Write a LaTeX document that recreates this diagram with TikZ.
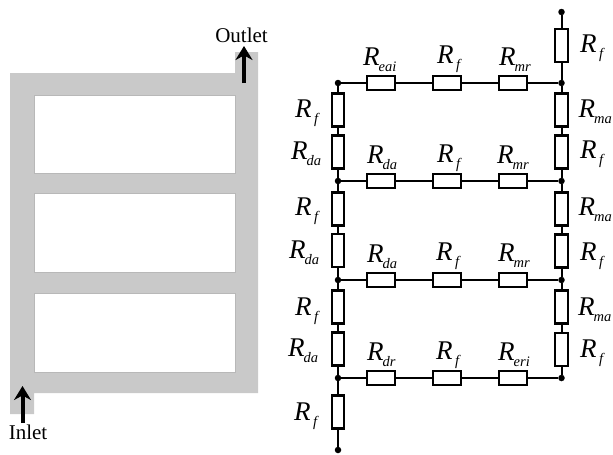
\documentclass[tikz,border=0pt]{standalone}
\usepackage{fontspec}
\setmainfont{Liberation Serif}
\usetikzlibrary{arrows.meta}
\newcommand{\rname}[1]{\fontsize{27}{27}\selectfont\textit{R}\kern-1pt\raisebox{-6pt}{\fontsize{14.5}{14.5}\selectfont\textit{#1}}}
\newcommand{\rfilm}{\rname{\kern3.5pt f}}
\tikzset{
	rvert/.style={draw,line width=2.2pt,fill=white,minimum width=12.5pt,minimum height=33pt,inner sep=0pt},
	rhorz/.style={draw,line width=2.2pt,fill=white,minimum width=28.5pt,minimum height=14pt,inner sep=0pt},
	junction/.style={circle,fill=black,inner sep=0pt,minimum size=6.5pt},
	wire/.style={line width=2pt},
	rlabel/.style={anchor=base west,inner sep=0pt},
	flowarrow/.style={line width=4pt,-{Stealth[length=14pt,width=17pt]}},
	tag/.style={font=\fontsize{21}{21}\selectfont,inner sep=0pt}
}
\begin{document}
\begin{tikzpicture}[x=1pt,y=-1pt]
	\useasboundingbox (0,0) rectangle (613,455);
	% channel plate
	\fill[fill=black!21] (10,73) -- (235,73) -- (235,52) -- (258,52) -- (258,393) -- (34,393) -- (34,414) -- (10,414) -- cycle;
	\draw[fill=white,draw=black!28,line width=0.7pt] (34,95) rectangle (235,173);
	\draw[fill=white,draw=black!28,line width=0.7pt] (34,193.5) rectangle (235,272);
	\draw[fill=white,draw=black!28,line width=0.7pt] (34,293.5) rectangle (235,372);
	% inlet and outlet
	\node[tag] (outlet) at (241.5,35) {Outlet};
	\node[tag] (inlet) at (28,432) {Inlet};
	\coordinate (outletstart) at (244,83);
	\coordinate (outletend) at (244,46);
	\coordinate (inletstart) at (22.5,423);
	\coordinate (inletend) at (22.5,386);
	\draw[flowarrow] (outletstart) -- (outletend);
	\draw[flowarrow] (inletstart) -- (inletend);
	% junctions
	\node[junction] (top) at (561.5,12) {};
	\node[junction] (bottom) at (338,450) {};
	\node[junction] (la) at (338,83) {};
	\node[junction] (lb) at (338,181) {};
	\node[junction] (lc) at (338,280) {};
	\node[junction] (ld) at (338,378) {};
	\node[junction] (ra) at (561.5,83) {};
	\node[junction] (rb) at (561.5,181) {};
	\node[junction] (rc) at (561.5,280) {};
	\node[junction] (rd) at (561.5,378) {};
	% left column
	\node[rvert] (l1) at (338,110) {};
	\node[rvert] (l2) at (338,152) {};
	\node[rvert] (l3) at (338,209) {};
	\node[rvert] (l4) at (338,250.5) {};
	\node[rvert] (l5) at (338,307) {};
	\node[rvert] (l6) at (338,349) {};
	\node[rvert] (l7) at (338,412) {};
	% right column
	\node[rvert] (r0) at (561.5,45.5) {};
	\node[rvert] (r1) at (561.5,110) {};
	\node[rvert] (r2) at (561.5,152) {};
	\node[rvert] (r3) at (561.5,209) {};
	\node[rvert] (r4) at (561.5,251) {};
	\node[rvert] (r5) at (561.5,307) {};
	\node[rvert] (r6) at (561.5,349.5) {};
	% rows
	\node[rhorz] (a1) at (381,83) {};
	\node[rhorz] (a2) at (447,83) {};
	\node[rhorz] (a3) at (513,83) {};
	\node[rhorz] (b1) at (381,181) {};
	\node[rhorz] (b2) at (447,181) {};
	\node[rhorz] (b3) at (513,181) {};
	\node[rhorz] (c1) at (381,280) {};
	\node[rhorz] (c2) at (447,280) {};
	\node[rhorz] (c3) at (513,280) {};
	\node[rhorz] (d1) at (381,378) {};
	\node[rhorz] (d2) at (447,378) {};
	\node[rhorz] (d3) at (513,378) {};
	% wires
	\draw[wire] (la) -- (l1) -- (l2) -- (lb) -- (l3) -- (l4) -- (lc) -- (l5) -- (l6) -- (ld) -- (l7) -- (bottom);
	\draw[wire] (top) -- (r0) -- (ra) -- (r1) -- (r2) -- (rb) -- (r3) -- (r4) -- (rc) -- (r5) -- (r6) -- (rd);
	\draw[wire] (la) -- (a1) -- (a2) -- (a3) -- (ra);
	\draw[wire] (lb) -- (b1) -- (b2) -- (b3) -- (rb);
	\draw[wire] (lc) -- (c1) -- (c2) -- (c3) -- (rc);
	\draw[wire] (ld) -- (d1) -- (d2) -- (d3) -- (rd);
	% labels, left column
	\node[rlabel] (tl1) at (295,117) {\rfilm};
	\node[rlabel] (tl2) at (291,159) {\rname{da}};
	\node[rlabel] (tl3) at (295,215) {\rfilm};
	\node[rlabel] (tl4) at (289,258) {\rname{da}};
	\node[rlabel] (tl5) at (295,315) {\rfilm};
	\node[rlabel] (tl6) at (288,356) {\rname{da}};
	\node[rlabel] (tl7) at (294,420) {\rfilm};
	% labels, right column
	\node[rlabel] (tr0) at (580,52) {\rfilm};
	\node[rlabel] (tr1) at (578.5,117) {\rname{ma}};
	\node[rlabel] (tr2) at (580,158) {\rfilm};
	\node[rlabel] (tr3) at (578.5,215) {\rname{ma}};
	\node[rlabel] (tr4) at (580,260) {\rfilm};
	\node[rlabel] (tr5) at (578,315) {\rname{ma}};
	\node[rlabel] (tr6) at (580,357) {\rfilm};
	% labels, rows
	\node[rlabel] (ta1) at (363,65) {\rname{eai}};
	\node[rlabel] (ta2) at (437,63) {\rfilm};
	\node[rlabel] (ta3) at (499,65) {\rname{mr}};
	\node[rlabel] (tb1) at (367,163) {\rname{da}};
	\node[rlabel] (tb2) at (437,162) {\rfilm};
	\node[rlabel] (tb3) at (497,163) {\rname{mr}};
	\node[rlabel] (tc1) at (367,262) {\rname{da}};
	\node[rlabel] (tc2) at (436,260) {\rfilm};
	\node[rlabel] (tc3) at (498,261) {\rname{mr}};
	\node[rlabel] (td1) at (367,360) {\rname{dr}};
	\node[rlabel] (td2) at (436,359) {\rfilm};
	\node[rlabel] (td3) at (498,360) {\rname{eri}};
\end{tikzpicture}
\end{document}
